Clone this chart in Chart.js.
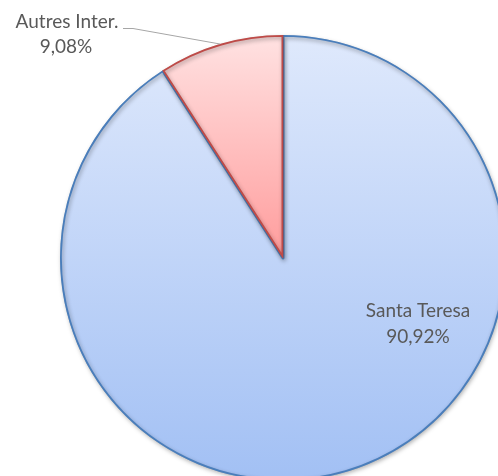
<!DOCTYPE html>
<html>
<head>
<meta charset="utf-8">
<script src="https://cdn.jsdelivr.net/npm/chart.js@4/dist/chart.umd.min.js"></script>
<style>
  html, body { margin: 0; padding: 0; background: #fff; overflow: hidden; }
  #wrap { width: 498px; height: 476px; overflow: hidden; position: relative; }
  canvas { position: absolute; left: 0; top: 0; }
</style>
</head>
<body>
<div id="wrap"><canvas id="pie" width="566" height="516"></canvas></div>
<script>
// données
const categories = ["Santa Teresa", "Autres Inter."];
const valeurs = [90.92, 9.08];
const etiquettes = ["90,92%", "9,08%"];

const ctx = document.getElementById("pie").getContext("2d");

// dégradés façon Excel (clair en haut, plus foncé en bas)
const gradBleu = ctx.createLinearGradient(0, 35, 0, 481);
gradBleu.addColorStop(0, "#dfe9fc");
gradBleu.addColorStop(1, "#a2c0f4");
const gradRouge = ctx.createLinearGradient(0, 35, 0, 258);
gradRouge.addColorStop(0, "#ffe2e2");
gradRouge.addColorStop(1, "#ff9c9c");

/* ------------------ ombre légère sous le camembert ------------------ */
const ombre = {
  id: "ombre",
  beforeDatasetsDraw(chart) {
    const c = chart.ctx;
    c.save();
    c.shadowColor = "rgba(0,0,0,0.3)";
    c.shadowBlur = 4;
    c.shadowOffsetX = 1;
    c.shadowOffsetY = 2;
  },
  afterDatasetsDraw(chart) {
    chart.ctx.restore();
  }
};

/* ------------------ étiquettes de données ------------------ */
const etiquettesPlugin = {
  id: "etiquettes",
  afterDraw(chart) {
    const c = chart.ctx;
    c.save();
    // ligne de rappel pour "Autres Inter."
    c.strokeStyle = "#a6a6a6";
    c.lineWidth = 1;
    c.beginPath();
    c.moveTo(123, 28.5);
    c.lineTo(133, 28.5);
    c.lineTo(220, 44);
    c.stroke();

    c.fillStyle = "#595959";
    c.font = "19px Lato, 'Open Sans', sans-serif";
    c.textAlign = "center";
    c.textBaseline = "alphabetic";
    c.fillText(categories[1], 67, 28);
    c.fillText(etiquettes[1], 66, 53);
    c.fillText(categories[0], 418, 317);
    c.fillText(etiquettes[0], 418, 343);
    c.restore();
  }
};

new Chart(ctx, {
  type: "pie",
  data: {
    labels: categories,
    datasets: [{
      data: valeurs,
      backgroundColor: [gradBleu, gradRouge],
      borderColor: ["#4a7ebb", "#be4b48"],
      borderWidth: 1.5,
      borderAlign: "inner"
    }]
  },
  options: {
    responsive: false,
    animation: false,
    radius: 223,
    layout: { padding: 0 },
    plugins: {
      legend: { display: false },
      tooltip: { enabled: false }
    }
  },
  plugins: [ombre, etiquettesPlugin]
});
</script>
</body>
</html>
